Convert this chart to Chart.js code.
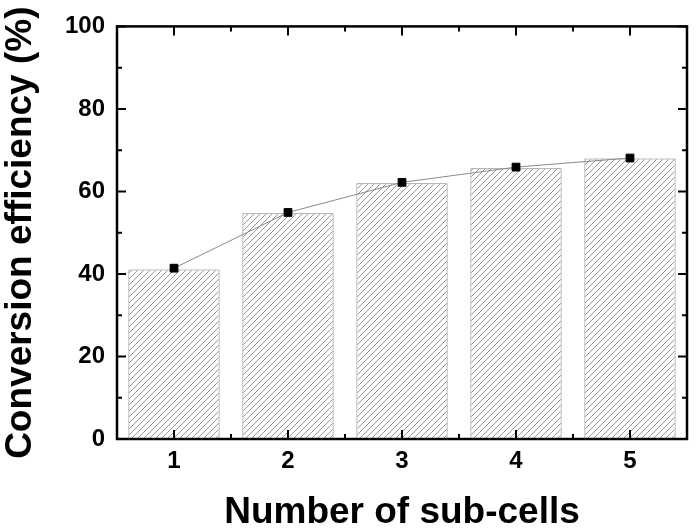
<!DOCTYPE html>
<html>
<head>
<meta charset="utf-8">
<script src="https://cdn.jsdelivr.net/npm/chart.js@4.4.1/dist/chart.umd.min.js"></script>
<style>
  html, body { margin: 0; padding: 0; background: #fff; }
  #wrap { width: 697px; height: 531px; }
</style>
</head>
<body>
<div id="wrap"><canvas id="effChart" width="697" height="531"></canvas></div>
<script>
// data
const subCells = ['1', '2', '3', '4', '5'];
const barValues = [41.1, 54.7, 62.0, 65.6, 68.0];
const pointValues = [41.4, 54.9, 62.2, 65.9, 68.1];
const yTicks = [0, 20, 40, 60, 80, 100];

const FONT = '"Liberation Sans", Arial, sans-serif';

// diagonal hatch for the bars
function makeHatch() {
    const s = 6;
    const c = document.createElement('canvas');
    c.width = s; c.height = s;
    const g = c.getContext('2d');
    g.fillStyle = '#fff';
    g.fillRect(0, 0, s, s);
    g.strokeStyle = '#8c8c8c';
    g.lineWidth = 0.9;
    g.beginPath();
    g.moveTo(-1, s + 1); g.lineTo(s + 1, -1);
    g.moveTo(-1, 1); g.lineTo(1, -1);
    g.moveTo(s - 1, s + 1); g.lineTo(s + 1, s - 1);
    g.stroke();
    return g.createPattern(c, 'repeat');
}

// frame with inward ticks on all four sides
const framePlugin = {
    id: 'frame',
    afterDraw(chart) {
        const ctx = chart.ctx;
        const x = chart.scales.x, y = chart.scales.y;
        const a = chart.chartArea;
        const major = 9, minor = 5;
        ctx.save();
        ctx.strokeStyle = '#000';
        ctx.lineWidth = 2.5;
        ctx.strokeRect(a.left, a.top, a.right - a.left, a.bottom - a.top);
        ctx.lineWidth = 2;
        ctx.beginPath();
        const step = x.getPixelForValue(1) - x.getPixelForValue(0);
        subCells.forEach((c, i) => {
            const px = x.getPixelForValue(i);
            ctx.moveTo(px, a.bottom); ctx.lineTo(px, a.bottom - major);
            ctx.moveTo(px, a.top); ctx.lineTo(px, a.top + major);
            if (i < subCells.length - 1) {
                const mx = px + step / 2;
                ctx.moveTo(mx, a.bottom); ctx.lineTo(mx, a.bottom - minor);
                ctx.moveTo(mx, a.top); ctx.lineTo(mx, a.top + minor);
            }
        });
        for (let v = 0; v <= 100; v += 10) {
            const py = y.getPixelForValue(v);
            const len = v % 20 === 0 ? major : minor;
            ctx.moveTo(a.left, py); ctx.lineTo(a.left + len, py);
            ctx.moveTo(a.right, py); ctx.lineTo(a.right - len, py);
        }
        ctx.stroke();
        ctx.restore();
    }
};

const ctx = document.getElementById('effChart').getContext('2d');
new Chart(ctx, {
    type: 'bar',
    data: {
        labels: subCells,
        datasets: [
            {
                type: 'line',
                data: pointValues,
                borderColor: '#8a8a8a',
                borderWidth: 1,
                pointStyle: 'rect',
                pointRadius: 5.5,
                pointBackgroundColor: '#000',
                pointBorderColor: '#000',
                pointBorderWidth: 1,
                tension: 0,
                order: 0
            },
            {
                data: barValues,
                backgroundColor: makeHatch(),
                borderColor: '#808080',
                borderWidth: 1,
                barPercentage: 1,
                categoryPercentage: 0.8,
                order: 1
            }
        ]
    },
    options: {
        responsive: false,
        animation: false,
        layout: { padding: { top: 20, right: 10, left: 0, bottom: 0 } },
        plugins: { legend: { display: false }, tooltip: { enabled: false } },
        scales: {
            x: {
                grid: { display: false, drawTicks: false },
                border: { display: false },
                ticks: { color: '#000', padding: 8, font: { family: FONT, size: 24, weight: 'bold' } },
                title: {
                    display: true,
                    text: 'Number of sub-cells',
                    color: '#000',
                    padding: 0,
                    font: { family: FONT, size: 37, weight: 'bold', lineHeight: 1 }
                },
                afterFit(scale) { scale.height = 92; }
            },
            y: {
                min: 0,
                max: 100,
                afterBuildTicks(scale) { scale.ticks = yTicks.map(v => ({ value: v })); },
                grid: { display: false, drawTicks: false },
                border: { display: false },
                ticks: { color: '#000', padding: 12, font: { family: FONT, size: 24, weight: 'bold' } },
                title: {
                    display: true,
                    text: 'Conversion efficiency (%)',
                    color: '#000',
                    padding: 2,
                    font: { family: FONT, size: 37, weight: 'bold', lineHeight: 1 }
                },
                afterFit(scale) { scale.width = 117; }
            }
        }
    },
    plugins: [framePlugin]
});
</script>
</body>
</html>
